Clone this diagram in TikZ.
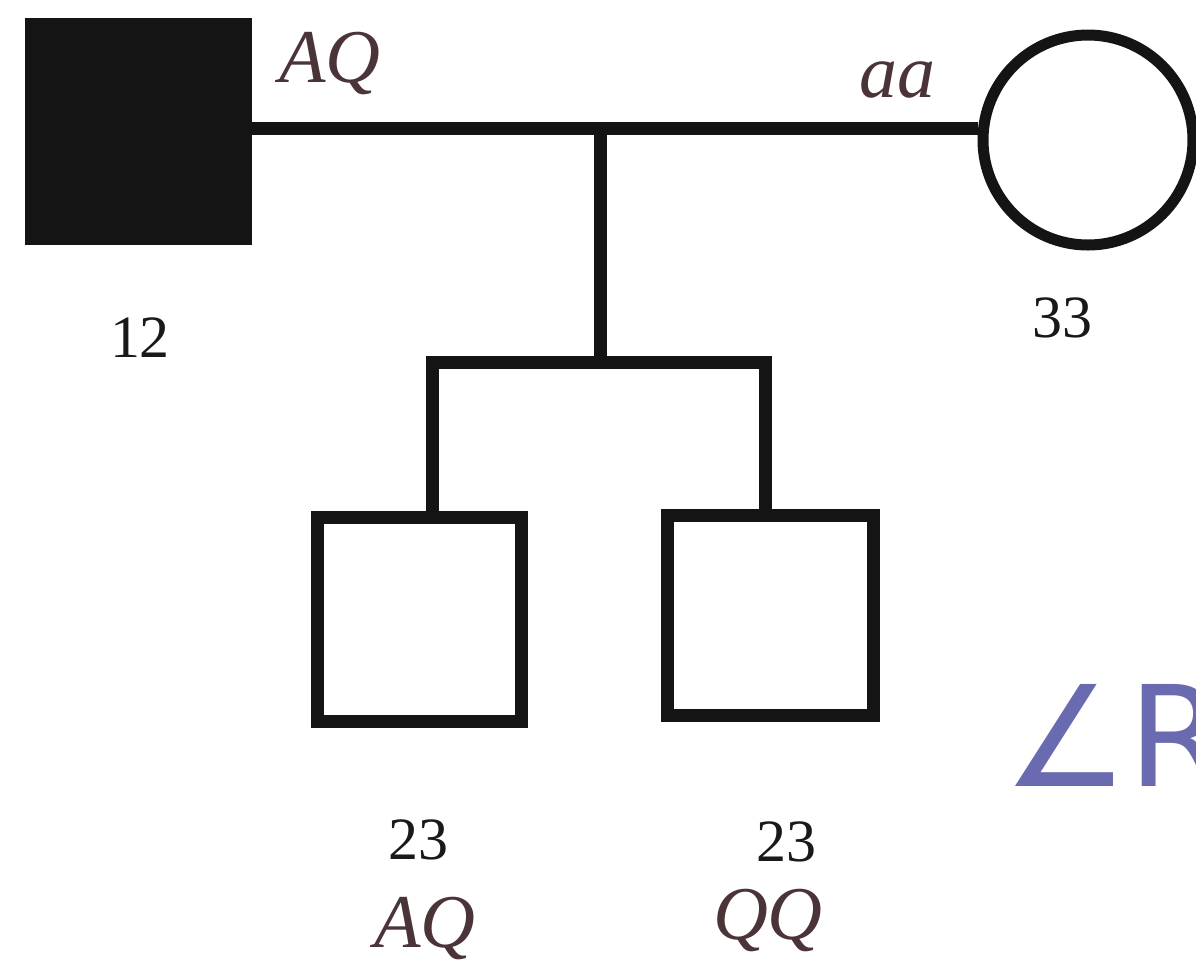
\documentclass[tikz,border=0pt]{standalone}
\usepackage{fontspec}
\setmainfont{Liberation Serif}
\newfontfamily\symfont{DejaVu Sans}
\begin{document}
\begin{tikzpicture}[x=0.5pt,y=-0.5pt,
  pedline/.style={line width=6.5pt,draw=black!92},
  affected/.style={rectangle,fill=black!92,draw=none,minimum width=113.5pt,minimum height=113.5pt,inner sep=0pt},
  male/.style={rectangle,draw=black!92,line width=6.5pt,fill=white,minimum width=102pt,minimum height=102pt,inner sep=0pt},
  female/.style={circle,draw=black!92,line width=5.5pt,fill=white,minimum size=105pt,inner sep=0pt},
  age/.style={font=\fontsize{30}{34}\selectfont,text=black!90},
  hand/.style={font=\fontsize{38}{42}\selectfont\itshape,text=hwink},
]
\definecolor{hwink}{HTML}{4A3438}
\definecolor{penblue}{HTML}{6A6AB0}
\useasboundingbox (0,0) rectangle (1196,971);
\fill[white] (0,0) rectangle (1196,971);

% parents
\node[affected] (father) at (138.5,131.5) {};
\node[female] (mother) at (1088,140) {};
% children
\node[male] (c1) at (419,619) {};
\node[male,minimum width=103pt,minimum height=100pt] (c2) at (770,615) {};

% connectors
\coordinate (m) at (600,128);
\coordinate (sib) at (600,362);
\coordinate (sl) at (432,362);
\coordinate (sr) at (765,362);
\draw[pedline] (father.east |- m) -- (m -| mother.west);
\draw[pedline] (m) -- (sib);
\draw[pedline,line cap=rect] (sl) -- (sr);
\draw[pedline] (sl) -- (sl |- c1.north);
\draw[pedline] (sr) -- (sr |- c2.north);

% ages
\node[age] (a1) at (140,338) {12};
\node[age] (a2) at (1062,318) {33};
\node[age] (a3) at (418,840) {23};
\node[age] (a4) at (786,842) {23};

% genotypes
\node[hand] (g1) at (330,63) {AQ};
\node[hand] (g2) at (897,80) {aa};
\node[hand] (g3) at (425,928) {AQ};
\node[hand] (g4) at (768,920) {QQ};

% note at the right margin
\node[anchor=west,font=\symfont\fontsize{70}{78}\selectfont,text=penblue] (note) at (996,735) {∠R};
\end{tikzpicture}
\end{document}
